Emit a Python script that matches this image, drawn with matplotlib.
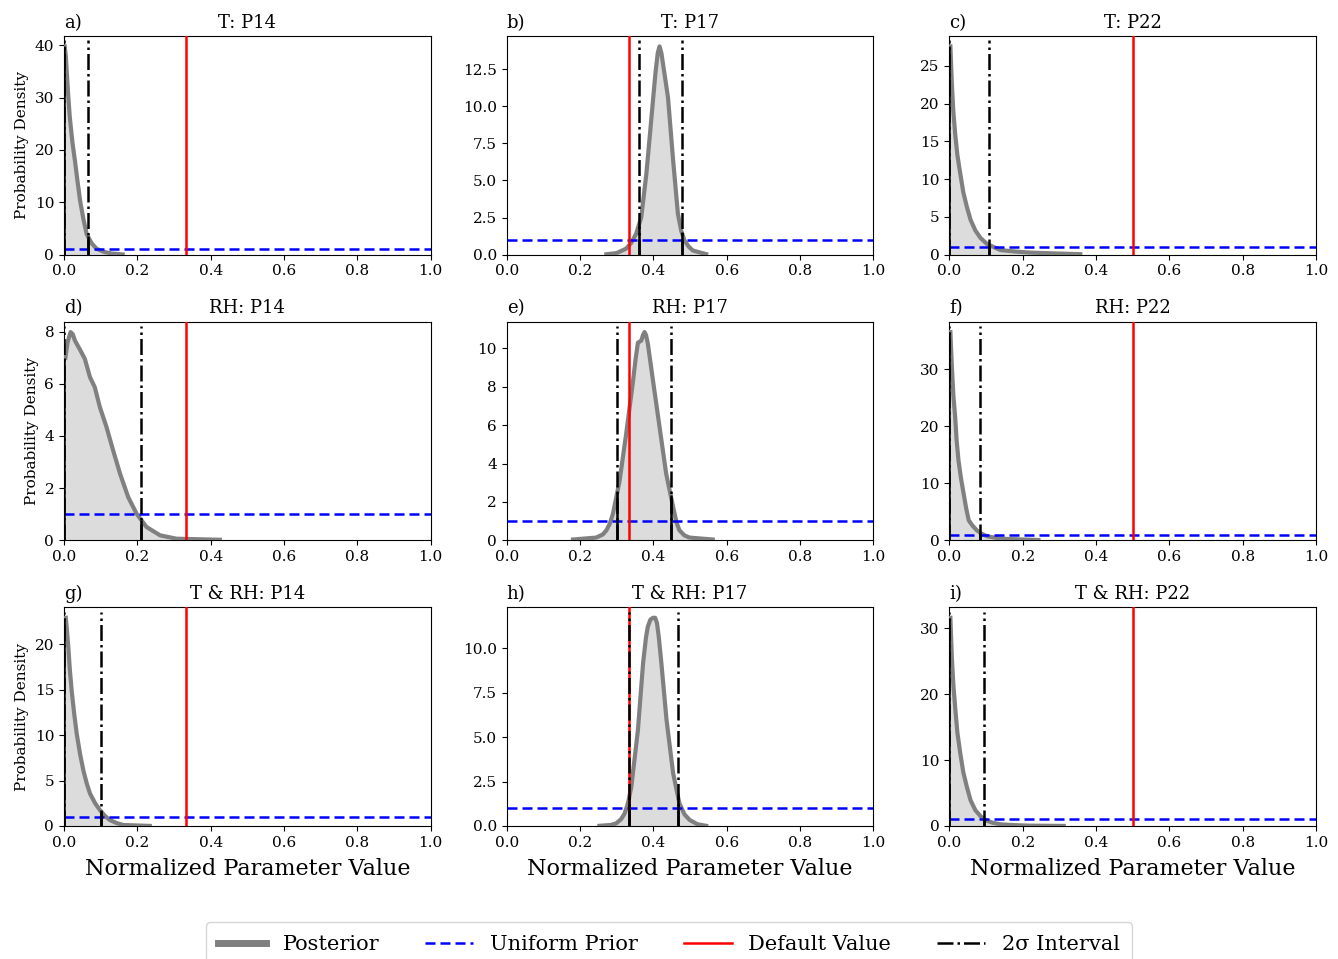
import matplotlib
matplotlib.use('Agg')
import matplotlib.pyplot as plt
import numpy as np

plt.rcParams['font.family'] = 'serif'
plt.rcParams['font.serif'] = ['DejaVu Serif']

# ---- data -----------------------------------------------------------
panel_letters = ['a)', 'b)', 'c)', 'd)', 'e)', 'f)', 'g)', 'h)', 'i)']
panel_titles = ['T: P14', 'T: P17', 'T: P22',
                'RH: P14', 'RH: P17', 'RH: P22',
                'T & RH: P14', 'T & RH: P17', 'T & RH: P22']
default_values = [0.333, 0.333, 0.5, 0.333, 0.333, 0.5, 0.333, 0.333, 0.5]
interval_lo = [0.0, 0.360, 0.0, 0.0, 0.302, 0.0, 0.0, 0.335, 0.0]
interval_hi = [0.065, 0.477, 0.109, 0.210, 0.447, 0.084, 0.101, 0.466, 0.095]
prior_density = 1.0
xtick_values = [0.0, 0.2, 0.4, 0.6, 0.8, 1.0]
ytick_values = [
    [0, 10, 20, 30, 40],
    [0.0, 2.5, 5.0, 7.5, 10.0, 12.5],
    [0, 5, 10, 15, 20, 25],
    [0, 2, 4, 6, 8],
    [0, 2, 4, 6, 8, 10],
    [0, 10, 20, 30],
    [0, 5, 10, 15, 20],
    [0.0, 2.5, 5.0, 7.5, 10.0],
    [0, 10, 20, 30],
]

x_T_P14 = [0.002, 0.005, 0.008, 0.012, 0.016, 0.023, 0.030, 0.037, 0.044, 0.053, 0.062, 0.075, 0.089, 0.110, 0.130, 0.160]
y_T_P14 = [39.8, 38.0, 34.5, 30.0, 26.2, 21.5, 17.9, 14.0, 10.3, 6.8, 3.9, 2.2, 1.1, 0.5, 0.2, 0.02]

x_T_P17 = [0.272, 0.300, 0.326, 0.340, 0.353, 0.367, 0.381, 0.390, 0.399, 0.406, 0.412, 0.417, 0.422, 0.428, 0.440, 0.454, 0.467, 0.476, 0.485, 0.496, 0.508, 0.544]
y_T_P17 = [0.02, 0.10, 0.40, 0.80, 1.40, 2.50, 5.45, 7.9, 10.4, 12.3, 13.6, 14.05, 13.6, 12.6, 10.6, 6.35, 2.75, 1.6, 0.95, 0.55, 0.27, 0.03]

x_T_P22 = [0.003, 0.007, 0.011, 0.016, 0.022, 0.030, 0.038, 0.048, 0.058, 0.071, 0.085, 0.103, 0.139, 0.180, 0.220, 0.290, 0.357]
y_T_P22 = [27.6, 22.6, 19.0, 16.0, 13.2, 10.7, 8.3, 6.3, 4.6, 3.2, 2.2, 1.4, 0.6, 0.4, 0.26, 0.15, 0.05]

x_RH_P14 = [0.004, 0.010, 0.018, 0.024, 0.030, 0.044, 0.057, 0.064, 0.071, 0.084, 0.098, 0.116, 0.134, 0.153, 0.175, 0.198, 0.225, 0.262, 0.307, 0.425]
y_RH_P14 = [7.0, 7.6, 7.98, 7.9, 7.65, 7.3, 6.95, 6.6, 6.25, 5.87, 5.1, 4.34, 3.45, 2.55, 1.66, 1.02, 0.51, 0.19, 0.06, 0.02]

x_RH_P17 = [0.181, 0.244, 0.262, 0.272, 0.281, 0.290, 0.308, 0.326, 0.344, 0.352, 0.358, 0.367, 0.372, 0.376, 0.380, 0.385, 0.399, 0.417, 0.435, 0.454, 0.463, 0.471, 0.485, 0.499, 0.562]
y_RH_P17 = [0.04, 0.14, 0.30, 0.52, 0.85, 1.39, 3.1, 5.55, 8.2, 9.5, 10.3, 10.4, 10.7, 10.85, 10.7, 10.25, 8.33, 5.9, 3.47, 1.73, 0.95, 0.52, 0.25, 0.14, 0.04]

x_RH_P22 = [0.003, 0.007, 0.011, 0.016, 0.020, 0.025, 0.032, 0.039, 0.046, 0.053, 0.064, 0.075, 0.088, 0.103, 0.130, 0.157, 0.243]
y_RH_P22 = [36.5, 30.4, 25.5, 21.6, 17.5, 14.0, 10.8, 8.2, 5.6, 3.5, 2.5, 1.75, 1.15, 0.7, 0.4, 0.23, 0.05]

x_TRH_P14 = [0.005, 0.008, 0.012, 0.016, 0.021, 0.028, 0.035, 0.044, 0.053, 0.062, 0.071, 0.085, 0.098, 0.112, 0.125, 0.145, 0.162, 0.234]
y_TRH_P14 = [22.9, 21.6, 19.6, 17.2, 14.9, 12.3, 10.1, 7.9, 6.1, 4.7, 3.57, 2.5, 1.75, 1.1, 0.66, 0.3, 0.11, 0.01]

x_TRH_P17 = [0.253, 0.285, 0.299, 0.312, 0.322, 0.331, 0.340, 0.358, 0.372, 0.380, 0.385, 0.392, 0.399, 0.405, 0.410, 0.415, 0.422, 0.436, 0.454, 0.471, 0.485, 0.499, 0.520, 0.544]
y_TRH_P17 = [0.01, 0.06, 0.15, 0.38, 0.71, 1.3, 2.2, 5.4, 9.14, 10.6, 11.2, 11.6, 11.7, 11.7, 11.4, 10.6, 9.14, 5.96, 2.96, 1.28, 0.65, 0.34, 0.1, 0.01]

x_TRH_P22 = [0.003, 0.007, 0.011, 0.016, 0.022, 0.030, 0.038, 0.048, 0.058, 0.071, 0.085, 0.098, 0.118, 0.139, 0.180, 0.220, 0.312]
y_TRH_P22 = [31.6, 25.5, 21.5, 18.0, 14.2, 11.0, 8.2, 5.9, 3.9, 2.4, 1.5, 0.9, 0.5, 0.25, 0.12, 0.05, 0.01]

post_x = [x_T_P14, x_T_P17, x_T_P22, x_RH_P14, x_RH_P17, x_RH_P22, x_TRH_P14, x_TRH_P17, x_TRH_P22]
post_y = [y_T_P14, y_T_P17, y_T_P22, y_RH_P14, y_RH_P17, y_RH_P22, y_TRH_P14, y_TRH_P17, y_TRH_P22]

# ---- figure ---------------------------------------------------------
fig, axes = plt.subplots(3, 3, figsize=(13.38, 9.59), dpi=100)
fig.subplots_adjust(left=0.0478, right=0.9836, top=0.9625, bottom=0.1387,
                    wspace=0.207, hspace=0.307)

for i, ax in enumerate(axes.flat):
    xs = np.array(post_x[i])
    ys = np.array(post_y[i])
    ax.fill_between(xs, 0, ys, color='#dcdcdc', zorder=1)
    ax.plot(xs, ys, color='gray', lw=3, zorder=3, label='Posterior')
    ax.axhline(prior_density, color='blue', ls=(0, (4, 2)), lw=1.8, zorder=4, label='Uniform Prior')
    ax.axvline(default_values[i], color='red', lw=1.8, zorder=5, label='Default Value')
    lo, hi = interval_lo[i], interval_hi[i]
    ax.axvline(lo, ymax=0.98, color='black', ls='-.', lw=1.8, zorder=6, label='2σ Interval')
    ax.axvline(hi, ymax=0.98, color='black', ls='-.', lw=1.8, zorder=6)
    ax.vlines([lo, hi], 0, np.interp([lo, hi], xs, ys), color='black', lw=1.8, zorder=6)
    ax.set_xlim(0, 1)
    ax.set_ylim(0, 1.05 * ys.max())
    ax.set_xticks(xtick_values)
    ax.set_yticks(ytick_values[i])
    ax.tick_params(labelsize=11)
    ax.set_title(panel_titles[i], fontsize=13)
    ax.set_title(panel_letters[i], loc='left', fontsize=13)
    if i % 3 == 0:
        ax.set_ylabel('Probability Density', fontsize=11)
    if i >= 6:
        ax.set_xlabel('Normalized Parameter Value', fontsize=16, labelpad=6)

handles, labels = axes.flat[0].get_legend_handles_labels()
leg = fig.legend(handles, labels, loc='upper center', bbox_to_anchor=(0.5, 0.049),
                 ncol=4, fontsize=15, handlelength=2.3, columnspacing=2.2,
                 borderpad=0.6)
leg.legend_handles[0].set_linewidth(5)

fig.savefig('out.png', dpi=100)
